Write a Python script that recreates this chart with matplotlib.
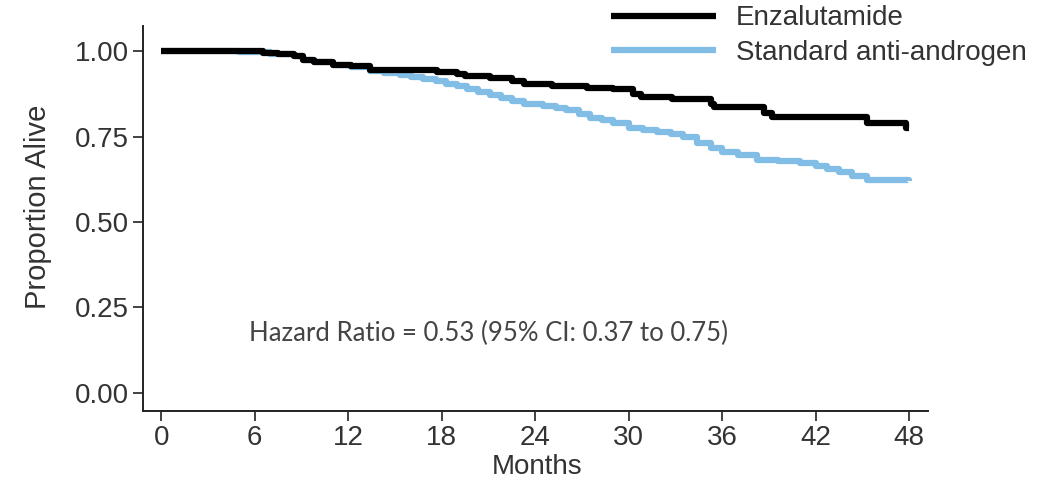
import matplotlib
matplotlib.use("Agg")
import matplotlib.pyplot as plt

# Kaplan-Meier curves (months, proportion alive)
enza_t = [0, 6.5, 7.5, 8.5, 9.1, 9.8, 11.0, 12.2, 13.4, 14.5, 17.7, 19.0,
          19.5, 21.1, 22.5, 23.3, 25.1, 27.3, 29.0, 30.3, 30.8, 32.8, 35.3,
          35.5, 38.7, 39.2, 45.3, 47.8, 48.0]
enza_s = [1.00, 0.995, 0.99, 0.985, 0.975, 0.968, 0.96, 0.955, 0.946,
          0.944, 0.94, 0.933, 0.928, 0.92, 0.912, 0.905, 0.899, 0.893, 0.888,
          0.875, 0.866, 0.859, 0.845, 0.837, 0.818, 0.808, 0.79, 0.775, 0.775]

std_t = [0, 5.0, 7.0, 8.5, 9.1, 9.8, 11.0, 12.2, 13.4, 14.3, 15.3, 16.0, 16.8,
         17.6, 18.3, 19.0, 19.6, 20.3, 21.1, 21.8, 22.5, 23.3, 24.5, 25.3,
         26.0, 26.8, 27.5, 28.3, 29.0, 30.0, 30.9, 31.8, 32.7, 33.5, 34.4,
         35.3, 36.0, 37.0, 38.2, 39.6, 41.0, 42.0, 42.7, 43.5, 44.3, 45.3,
         48.0]
std_s = [1.00, 0.997, 0.99, 0.985, 0.975, 0.968, 0.96, 0.953, 0.943, 0.937,
         0.93, 0.924, 0.918, 0.912, 0.905, 0.897, 0.89, 0.88, 0.871, 0.862,
         0.855, 0.845, 0.838, 0.833, 0.827, 0.816, 0.805, 0.797, 0.789, 0.775,
         0.769, 0.762, 0.756, 0.75, 0.731, 0.715, 0.706, 0.695, 0.681, 0.677,
         0.672, 0.663, 0.655, 0.645, 0.635, 0.623, 0.62]

labels = ["Enzalutamide", "Standard anti-androgen"]
x_ticks = [0, 6, 12, 18, 24, 30, 36, 42, 48]
y_ticks = [0.0, 0.25, 0.5, 0.75, 1.0]

plt.rcParams['font.family'] = ['Liberation Sans', 'DejaVu Sans']
txt = '#333333'

fig = plt.figure(figsize=(10.45, 4.84), dpi=100)
ax = fig.add_axes([0.137, 0.151, 0.751, 0.795])

l2, = ax.plot(std_t, std_s, drawstyle='steps-post', color='#82bde5',
              linewidth=4.5, solid_capstyle='butt')
l1, = ax.plot(enza_t, enza_s, drawstyle='steps-post', color='black',
              linewidth=4.5, solid_capstyle='butt')

ax.set_xlim(-1.16, 49.2)
ax.set_ylim(-0.053, 1.073)
ax.set_xticks(x_ticks)
ax.set_xticklabels([str(v) for v in x_ticks])
ax.set_yticks(y_ticks)
ax.set_yticklabels([f"{v:.2f}" for v in y_ticks])

for side in ['top', 'right']:
    ax.spines[side].set_visible(False)
for side in ['left', 'bottom']:
    ax.spines[side].set_linewidth(1.4)
    ax.spines[side].set_color('#222222')
ax.tick_params(axis='both', labelsize=20, colors='#222222', labelcolor=txt,
               length=7, width=1.2, pad=3)

ax.set_xlabel('Months', fontsize=20, color=txt)
ax.xaxis.label.set_va('center')
ax.xaxis.set_label_coords(0.502, -0.145)
ax.set_ylabel('Proportion Alive', fontsize=21, color=txt)
ax.yaxis.label.set_va('center')
ax.yaxis.set_label_coords(-0.134, 0.53)

ax.text(5.6, 0.175, 'Hazard Ratio = 0.53 (95% CI: 0.37 to 0.75)',
        fontsize=18.5, color='#444444', family=['Lato', 'DejaVu Sans'],
        va='center', ha='left')

fig.legend([l1, l2], labels, loc='upper left', bbox_to_anchor=(0.574, 1.012),
           frameon=False, fontsize=20, handlelength=3.8, handletextpad=0.7,
           labelspacing=0.3, labelcolor=txt, borderaxespad=0)

fig.savefig('out.png', dpi=100)
